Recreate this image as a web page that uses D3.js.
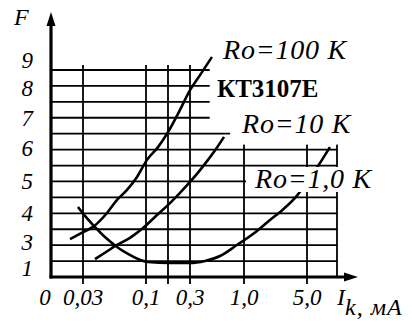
<!DOCTYPE html>
<html><head><meta charset="utf-8">
<script src="https://cdn.jsdelivr.net/npm/d3@7"></script>
<style>body{margin:0;background:#fff}svg{display:block}</style>
</head><body>
<script>
// ---- data ----
const xTickValues = [0, 0.03, 0.1, 0.2, 0.3, 1, 5];
const xTickLabels = ["0", "0,03", "0,1", "", "0,3", "1,0", "5,0"];
const yTickValues = [1, 3, 4, 5, 6, 7, 8, 9];
const yTickLabels = ["1", "3", "4", "5", "6", "7", "8", "9"];
// Ik (mA) and F for each Ro
const ik100 = [0.0178, 0.03, 0.0411, 0.0567, 0.0678, 0.0789, 0.09, 0.1045, 0.1545, 0.2, 0.2545, 0.3, 0.43, 0.585];
const f100  = [3.10, 3.34, 3.52, 4.0, 4.41, 4.72, 5.12, 5.64, 6.03, 6.53, 7.27, 7.93, 8.46, 9.11];
const ik10  = [0.0433, 0.0556, 0.0678, 0.0822, 0.0967, 0.15, 0.209, 0.2545, 0.3, 0.43, 0.533, 0.637, 0.741];
const f10   = [1.69, 2.23, 2.77, 3.14, 3.48, 3.93, 4.31, 4.63, 4.97, 5.33, 5.64, 5.97, 6.37];
const ik1   = [0.0253, 0.0322, 0.0411, 0.0544, 0.0678, 0.08, 0.0911, 0.109, 0.209, 0.3, 0.494, 0.689, 0.909, 1.825, 2.65, 3.29, 4.24, 5.5, 7.5, 8.83];
const f1    = [4.19, 3.90, 3.59, 3.17, 2.62, 2.08, 1.69, 1.46, 1.38, 1.38, 1.54, 1.92, 2.77, 3.38, 3.76, 4.03, 4.47, 5.09, 5.64, 6.03];
const gridColumns = [0.03, 0.1, 0.2, 0.3, 1, 5, 10];
const gridRowCount = 13;

// ---- layout ----
const W = 411, H = 326;
const svg = d3.select("body").append("svg").attr("width", W).attr("height", H);

const x = d3.scaleLinear()
  .domain([0, 0.03, 0.1, 0.2, 0.3, 1, 5, 10])
  .range([51, 83, 146, 168, 190, 244, 307, 337]);
const y = d3.scaleLinear()
  .domain([1, 3, 4, 5, 6, 7, 8, 9])
  .range([268, 242, 213, 181, 148, 118, 88, 60]);
const row = d3.scaleLinear().domain([0, gridRowCount]).range([277, 70]);

const font = "'Liberation Serif','Times New Roman',serif";
const axisY = row(0), axisX = x(0);

// grid rows
const g = svg.append("g").attr("stroke", "#000").attr("stroke-width", 1.8);
d3.range(1, gridRowCount + 1).forEach(i => {
  g.append("line").attr("x1", axisX).attr("x2", x(10))
    .attr("y1", row(i)).attr("y2", row(i));
});
// grid columns
gridColumns.forEach(c => {
  g.append("line").attr("x1", x(c)).attr("x2", x(c))
    .attr("y1", row(gridRowCount) - 5)
    .attr("y2", c === 10 ? axisY : axisY + 7);
});
// masks (blank areas of the original drawing)
const m = svg.append("g").attr("fill", "#fff");
m.append("rect").attr("x", x(0.555)).attr("y", 0)
  .attr("width", W).attr("height", (row(9) + row(10)) / 2);
m.append("rect").attr("x", x(0.82)).attr("y", 0)
  .attr("width", W).attr("height", row(8) - 5);

// curves
const line = d3.line().x(d => x(d[0])).y(d => y(d[1])).curve(d3.curveMonotoneX);
[[ik100, f100], [ik10, f10], [ik1, f1]].forEach(([xs, fs]) => {
  svg.append("path").datum(xs.map((v, i) => [v, fs[i]]))
    .attr("d", line).attr("fill", "none").attr("stroke", "#000")
    .attr("stroke-width", 2.6).attr("stroke-linejoin", "round");
});

// axes
svg.append("line").attr("x1", axisX).attr("x2", axisX).attr("y1", axisY + 1.5).attr("y2", 22)
  .attr("stroke", "#000").attr("stroke-width", 3.2);
svg.append("line").attr("x1", axisX - 1.5).attr("x2", 348).attr("y1", axisY).attr("y2", axisY)
  .attr("stroke", "#000").attr("stroke-width", 3.2);
svg.append("path").attr("d", `M${axisX},12 L${axisX - 4.5},26 L${axisX + 4.5},26 Z`).attr("fill", "#000");
svg.append("path").attr("d", `M358,${axisY} L344,${axisY - 4.5} L344,${axisY + 4.5} Z`).attr("fill", "#000");

// tick labels
xTickValues.forEach((v, i) => {
  if (!xTickLabels[i]) return;
  svg.append("text").attr("x", x(v) + (v === 0 ? -6 : 0)).attr("y", 305)
    .attr("text-anchor", "middle").attr("font-family", font).attr("font-style", "italic")
    .attr("font-size", 23).text(xTickLabels[i]);
});
yTickValues.forEach((v, i) => {
  svg.append("text").attr("x", 33).attr("y", y(v)).attr("dy", "0.35em")
    .attr("text-anchor", "end").attr("font-family", font).attr("font-style", "italic")
    .attr("font-size", 23).text(yTickLabels[i]);
});

// axis titles
svg.append("text").attr("x", 14).attr("y", 25).attr("font-family", font)
  .attr("font-style", "italic").attr("font-size", 24).text("F");
const it = svg.append("text").attr("x", 337).attr("y", 305).attr("font-family", font)
  .attr("font-style", "italic").attr("font-size", 24).text("I");
it.append("tspan").attr("dy", 10).attr("letter-spacing", 1).text("k, мА");

// curve labels
function label(txt, x0, yb, opts) {
  const t = svg.append("text").attr("x", x0).attr("y", yb).attr("font-family", font)
    .attr("font-size", opts.size).attr("font-style", opts.italic ? "italic" : "normal")
    .attr("font-weight", opts.bold ? "bold" : "normal")
    .attr("letter-spacing", opts.ls || 0).text(txt);
  if (opts.bg) {
    const b = t.node().getBBox();
    svg.insert("rect", () => t.node()).attr("x", b.x - 8).attr("y", b.y + 4)
      .attr("width", b.width + 10).attr("height", b.height - 6).attr("fill", "#fff");
  }
  return t;
}
label("Ro=100 K", 223, 59, {size: 28, italic: true, ls: 0.8});
label("КТ3107Е", 217, 97, {size: 25, bold: true});
label("Ro=10 K", 242, 133, {size: 28, italic: true, ls: 0.8});
label("Ro=1,0 K", 255, 188, {size: 28, italic: true, ls: 0.8, bg: true});
</script>
</body></html>
